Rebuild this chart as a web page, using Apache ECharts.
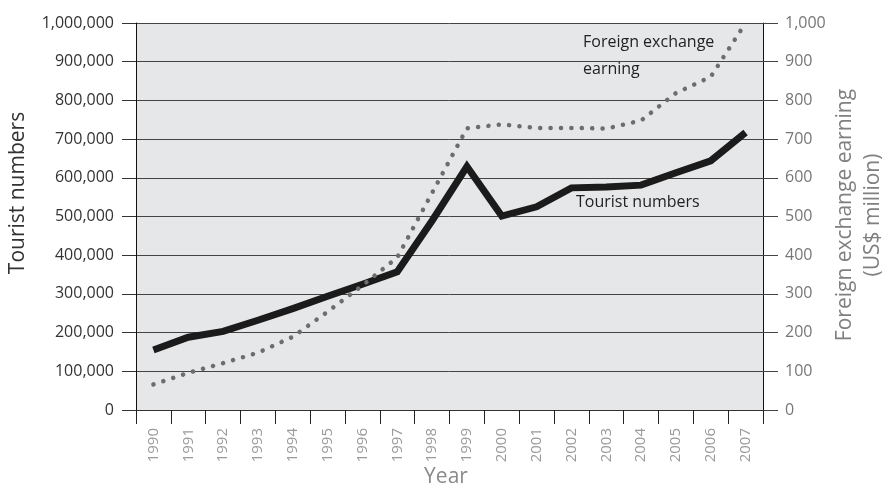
<!DOCTYPE html>
<html>
<head>
<meta charset="utf-8">
<script src="https://cdn.jsdelivr.net/npm/echarts@6/dist/echarts.min.js"></script>
<style>
html,body{margin:0;padding:0;background:#fff;}
#chart{width:889px;height:488px;}
</style>
</head>
<body>
<div id="chart"></div>
<script>
var years = ['1990','1991','1992','1993','1994','1995','1996','1997','1998','1999','2000','2001','2002','2003','2004','2005','2006','2007'];
var touristNumbers = [155000,188000,203000,232000,262000,294000,325000,357000,489000,629000,501000,525000,574000,576000,581000,613000,644000,717000];
var foreignExchange = [66,96,121,148,189,254,322,394,561,728,738,729,729,727,748,819,861,1000];
var leftTicks = {min:0, max:1000000, interval:100000};
var rightTicks = {min:0, max:1000, interval:100};

var FONT = '"Open Sans", "Noto Sans", sans-serif';
var chart = echarts.init(document.getElementById('chart'), null, {renderer:'canvas'});
chart.setOption({
  animation:false,
  backgroundColor:'#ffffff',
  grid:{left:136, right:126, top:23, bottom:78, show:true, backgroundColor:'#e6e7e9', borderWidth:0},
  xAxis:{
    type:'category', data:years, boundaryGap:true,
    axisLine:{show:true, lineStyle:{color:'#333', width:1}},
    axisTick:{show:true, length:14, lineStyle:{color:'#222', width:1}},
    axisLabel:{rotate:90, color:'#9a9a9a', fontSize:15, fontFamily:FONT, margin:18},
    splitLine:{show:false}
  },
  yAxis:[{
    type:'value', min:leftTicks.min, max:leftTicks.max, interval:leftTicks.interval, position:'left',
    axisLine:{show:true, lineStyle:{color:'#111', width:1}},
    axisTick:{show:true, length:14, lineStyle:{color:'#333', width:1}},
    axisLabel:{color:'#333', fontSize:16, fontFamily:FONT, margin:22, formatter:function(v){return v.toLocaleString('en-US');}},
    splitLine:{show:true, lineStyle:{color:'#444', width:1}}
  },{
    type:'value', min:rightTicks.min, max:rightTicks.max, interval:rightTicks.interval, position:'right',
    axisLine:{show:true, lineStyle:{color:'#111', width:1}},
    axisTick:{show:true, length:15, lineStyle:{color:'#444', width:1}},
    axisLabel:{color:'#777', fontSize:16, fontFamily:FONT, margin:22, formatter:function(v){return v.toLocaleString('en-US');}},
    splitLine:{show:false}
  }],
  series:[{
    name:'Tourist numbers', type:'line', yAxisIndex:0, data:touristNumbers,
    symbol:'none', lineStyle:{color:'#1b1b1b', width:7, join:'miter'}
  },{
    name:'Foreign exchange earning', type:'line', yAxisIndex:1, data:foreignExchange,
    symbol:'none', lineStyle:{color:'#6d6d6d', width:4.5, type:[0.1,10.3], cap:'round'}
  }],
  graphic:[
    {type:'text', left:583, top:34, style:{text:'Foreign exchange', fill:'#222', font:'16px '+FONT}},
    {type:'text', left:583, top:61, style:{text:'earning', fill:'#222', font:'16px '+FONT}},
    {type:'text', left:576, top:194, style:{text:'Tourist numbers', fill:'#222', font:'16px '+FONT}},
    {type:'text', x:18, y:193, rotation:Math.PI/2, style:{text:'Tourist numbers', fill:'#333', font:'21px '+FONT, align:'center', verticalAlign:'middle'}},
    {type:'text', x:845, y:215, rotation:Math.PI/2, style:{text:'Foreign exchange earning', fill:'#808080', font:'21px '+FONT, align:'center', verticalAlign:'middle'}},
    {type:'text', x:873, y:215, rotation:Math.PI/2, style:{text:'(US$ million)', fill:'#808080', font:'21px '+FONT, align:'center', verticalAlign:'middle'}},
    {type:'text', x:446, y:477, style:{text:'Year', fill:'#8a8a8a', font:'21px '+FONT, align:'center', verticalAlign:'middle'}}
  ]
});
</script>
</body>
</html>
